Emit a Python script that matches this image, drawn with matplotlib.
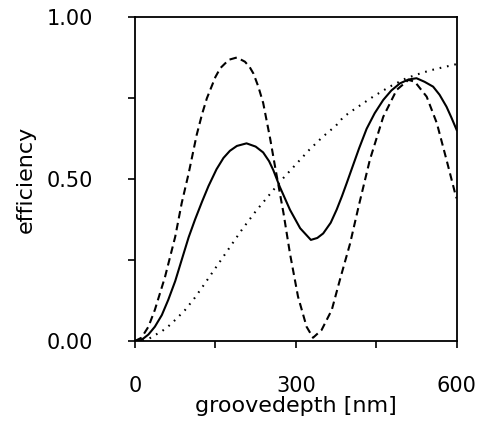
import matplotlib
matplotlib.use("Agg")
import matplotlib.pyplot as plt

# groove depth (nm) and efficiency values
depth_solid = [0, 12, 25, 37, 50, 62, 75, 87, 100, 112, 125, 137, 152, 165, 177, 190, 208,
               225, 239, 250, 258, 270, 289, 308, 328, 340, 351, 365, 376, 386, 395, 404,
               418, 432, 447, 463, 478, 494, 510, 525, 540, 556, 568, 581, 590, 600]
eff_solid = [0.0, 0.003, 0.02, 0.044, 0.08, 0.127, 0.185, 0.25, 0.32, 0.375, 0.43, 0.478,
             0.53, 0.565, 0.587, 0.602, 0.61, 0.60, 0.582, 0.555, 0.527, 0.476, 0.405, 0.348,
             0.312, 0.318, 0.332, 0.365, 0.405, 0.447, 0.488, 0.53, 0.595, 0.655, 0.703, 0.744,
             0.773, 0.795, 0.807, 0.811, 0.80, 0.785, 0.76, 0.723, 0.69, 0.651]

depth_dashed = [0, 12, 25, 37, 56, 75, 87, 100, 115, 125, 134, 150, 159, 175, 190, 205, 214,
                221, 230, 239, 252, 261, 277, 289, 304, 320, 332, 348, 367, 382, 401, 417,
                438, 463, 488, 510, 522, 544, 563, 581, 597, 600]
eff_dashed = [0.0, 0.01, 0.044, 0.096, 0.198, 0.322, 0.425, 0.517, 0.636, 0.70, 0.749, 0.815,
              0.842, 0.868, 0.875, 0.862, 0.845, 0.825, 0.785, 0.735, 0.625, 0.54, 0.394, 0.27,
              0.137, 0.044, 0.01, 0.034, 0.096, 0.188, 0.30, 0.415, 0.559, 0.692, 0.775, 0.806,
              0.80, 0.754, 0.672, 0.559, 0.456, 0.44]

depth_dotted = [0, 12, 25, 37, 50, 62, 75, 93, 110, 125, 150, 175, 200, 225, 250, 275, 300,
                325, 350, 375, 388, 400, 425, 444, 475, 506, 525, 550, 575, 594, 600]
eff_dotted = [0.0, 0.0, 0.006, 0.018, 0.03, 0.045, 0.065, 0.095, 0.13, 0.165, 0.225, 0.285,
              0.345, 0.40, 0.45, 0.50, 0.545, 0.59, 0.63, 0.665, 0.69, 0.705, 0.733, 0.754,
              0.785, 0.811, 0.822, 0.835, 0.845, 0.852, 0.855]

x_ticks = [0, 150, 300, 450, 600]
x_ticklabels = ["0", "", "300", "", "600"]
y_ticks = [0.0, 0.25, 0.5, 0.75, 1.0]
y_ticklabels = ["0.00", "", "0.50", "", "1.00"]

plt.rcParams['font.family'] = ['DejaVu Sans']
fig = plt.figure(figsize=(4.81, 4.28), dpi=100)
ax = fig.add_axes([0.2807, 0.2033, 0.6688, 0.757])

ax.plot(depth_solid, eff_solid, color='black', lw=1.5, linestyle='-')
ax.plot(depth_dashed, eff_dashed, color='black', lw=1.5, linestyle=(0, (3.6, 2.2)))
ax.plot(depth_dotted, eff_dotted, color='black', lw=1.5, linestyle=(0, (0.8, 2.8)))

ax.set_xlim(0, 600)
ax.set_ylim(0, 1)
ax.set_xticks(x_ticks)
ax.set_xticklabels(x_ticklabels)
ax.set_yticks(y_ticks)
ax.set_yticklabels(y_ticklabels)
ax.tick_params(direction='out', length=5, width=1.2, labelsize=15, color='black')
ax.tick_params(axis='x', pad=20)
ax.tick_params(axis='y', pad=25)
for s in ax.spines.values():
    s.set_linewidth(1.3)

ax.set_xlabel("groovedepth [nm]", fontsize=16, labelpad=0)
ax.set_ylabel("efficiency", fontsize=16, labelpad=8)

fig.savefig("out.png", dpi=100)
